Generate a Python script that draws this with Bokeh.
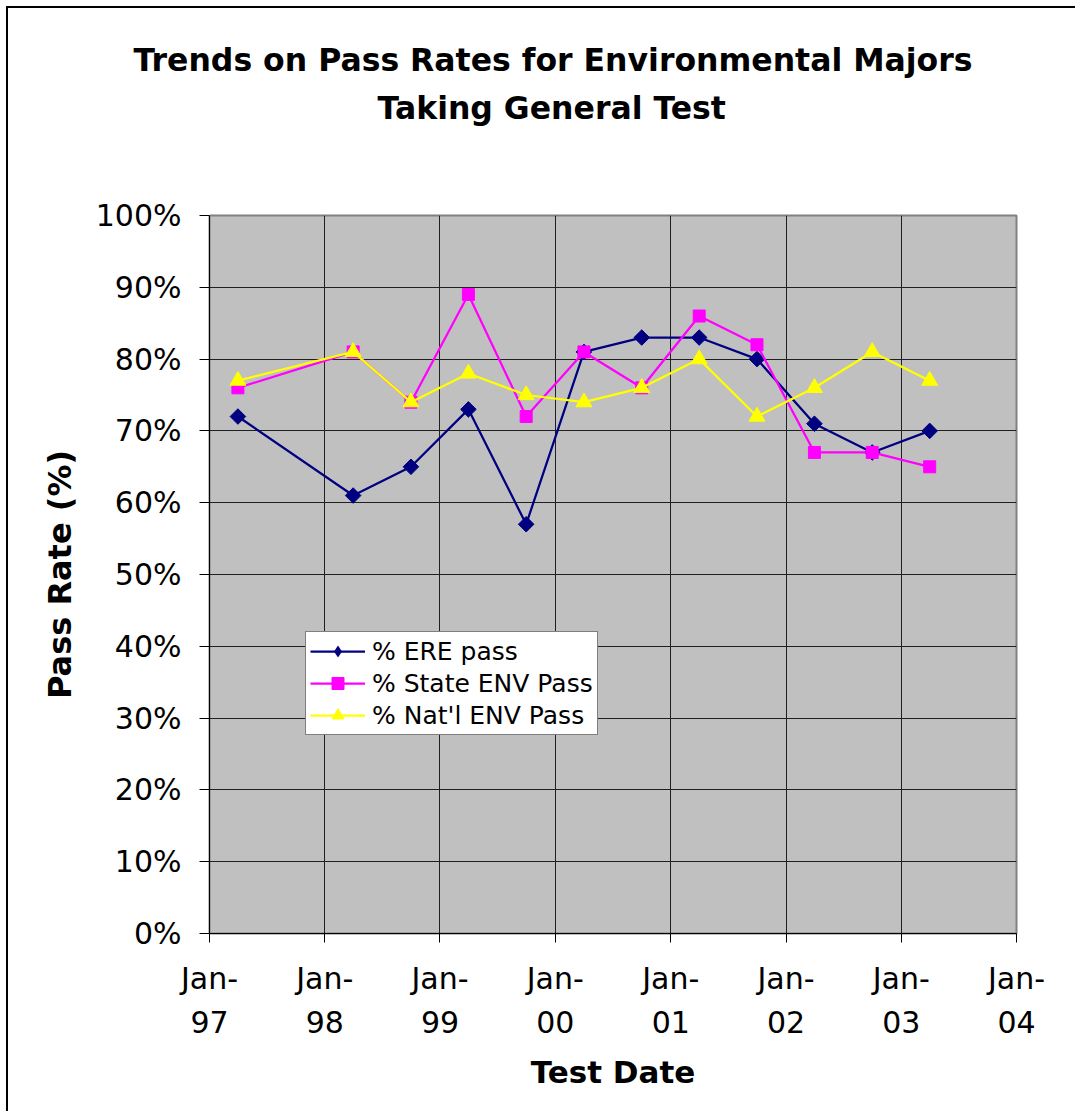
from datetime import datetime
import math

from bokeh.plotting import figure
from bokeh.models import (ColumnDataSource, FixedTicker, DatetimeTickFormatter,
                          PrintfTickFormatter, Legend, LegendItem, Range1d, Title, LinearAxis)
from bokeh.embed import file_html
from bokeh.resources import INLINE

# ---------------- data ----------------
test_dates = ["1997-04-01", "1998-04-01", "1998-10-01", "1999-04-01", "1999-10-01",
              "2000-04-01", "2000-10-01", "2001-04-01", "2001-10-01", "2002-04-01",
              "2002-10-01", "2003-04-01"]
ere_pass = [72, 61, 65, 73, 57, 81, 83, 83, 80, 71, 67, 70]
state_env_pass = [76, 81, 74, 89, 72, 81, 76, 86, 82, 67, 67, 65]
natl_env_pass = [77, 81, 74, 78, 75, 74, 76, 80, 72, 76, 81, 77]
tick_years = [1997, 1998, 1999, 2000, 2001, 2002, 2003, 2004]
y_ticks = [0, 10, 20, 30, 40, 50, 60, 70, 80, 90, 100]
series_names = ["% ERE pass", "% State ENV Pass", "% Nat'l ENV Pass"]
title_lines = ["Trends on Pass Rates for Environmental Majors", "Taking General Test"]

# ---------------- helpers ----------------
EPOCH = datetime(1970, 1, 1)


def to_ms(d):
    return (d - EPOCH).total_seconds() * 1000.0


x_dates = [datetime.strptime(s, "%Y-%m-%d") for s in test_dates]
source = ColumnDataSource(dict(date=x_dates, ere=ere_pass, state=state_env_pass, natl=natl_env_pass))
x_tick_ms = [to_ms(datetime(y, 1, 1)) for y in tick_years]

FONT = "DejaVu Sans"

p = figure(width=1069, height=1105, x_axis_type="datetime",
           output_backend="svg", toolbar_location=None,
           x_range=Range1d(x_tick_ms[0], x_tick_ms[-1]),
           y_range=Range1d(0, 100),
           min_border_left=201, min_border_right=61,
           min_border_top=207, min_border_bottom=180,
           background_fill_color="#C0C0C0", border_fill_color="white",
           outline_line_color="#808080", outline_line_width=2,
           styles={"margin-left": "6px", "margin-top": "6px",
                   "border-left": "2px solid #000000", "border-top": "2px solid #000000"})

p.title.text = ""
p.title.visible = False

# axes
xa = p.xaxis[0]
xa.ticker = FixedTicker(ticks=x_tick_ms)
fmt = "%b-\n%y"
xa.formatter = DatetimeTickFormatter(microseconds=fmt, milliseconds=fmt, seconds=fmt, minsec=fmt,
                                     minutes=fmt, hourmin=fmt, hours=fmt, days=fmt,
                                     months=fmt, years=fmt)
xa.major_label_text_font = FONT
xa.major_label_text_font_size = "30px"
xa.major_label_text_color = "black"
xa.major_label_text_line_height = 1.26
xa.major_label_standoff = 18
xa.major_tick_out = 9
xa.major_tick_in = 0
xa.minor_tick_line_color = None
xa.axis_line_color = "black"
xa.major_tick_line_color = "black"
xa.axis_label = "Test Date"
xa.axis_label_text_font = FONT
xa.axis_label_text_font_size = "31px"
xa.axis_label_text_font_style = "bold"
xa.axis_label_text_color = "black"
xa.axis_label_standoff = 11

ya = p.yaxis[0]
ya.ticker = FixedTicker(ticks=y_ticks)
ya.formatter = PrintfTickFormatter(format="%d%%")
ya.major_label_text_font = FONT
ya.major_label_text_font_size = "30px"
ya.major_label_text_color = "black"
ya.major_label_standoff = 18
ya.major_tick_out = 10
ya.major_tick_in = 0
ya.minor_tick_line_color = None
ya.axis_line_color = "black"
ya.major_tick_line_color = "black"
ya.axis_label = "Pass Rate (%)"
ya.axis_label_text_font = FONT
ya.axis_label_text_font_size = "32px"
ya.axis_label_text_font_style = "bold"
ya.axis_label_text_color = "black"
ya.axis_label_standoff = 14

p.xgrid.grid_line_color = "#202020"
p.xgrid.grid_line_width = 1
p.ygrid.grid_line_color = "#202020"
p.ygrid.grid_line_width = 1

# series
LW = 2.25
ere_line = p.line("date", "ere", source=source, line_color="#000080", line_width=LW)
ere_pts = p.scatter("date", "ere", source=source, marker="square", angle=math.pi / 4,
                    size=11, fill_color="#000080", line_color="#000080")
# diamond used only for the legend swatch (legend glyphs ignore marker angle)
ere_key = p.scatter("date", "ere", source=source, marker="diamond", size=0,
                    fill_color="#000080", line_color=None)
st_line = p.line("date", "state", source=source, line_color="#FF00FF", line_width=LW)
st_pts = p.scatter("date", "state", source=source, marker="square", size=12,
                   fill_color="#FF00FF", line_color="#FF00FF")
na_line = p.line("date", "natl", source=source, line_color="#FFFF00", line_width=LW)
na_pts = p.scatter("date", "natl", source=source, marker="triangle", size=16,
                   fill_color="#FFFF00", line_color="#FFFF00")

legend = Legend(items=[LegendItem(label=series_names[0], renderers=[ere_line, ere_key]),
                       LegendItem(label=series_names[1], renderers=[st_line, st_pts]),
                       LegendItem(label=series_names[2], renderers=[na_line, na_pts])],
                location=(96, 198), margin=0, padding=4, spacing=2,
                glyph_width=55, glyph_height=30, label_height=30, label_standoff=7,
                label_text_font=FONT, label_text_font_size="25px", label_text_color="black",
                border_line_color="black", border_line_width=1,
                background_fill_color="white", background_fill_alpha=1.0)
p.add_layout(legend, "center")

# invisible spacer (white tick on white, no labels) between plot area and the title
spacer = LinearAxis(ticker=FixedTicker(ticks=[x_tick_ms[0]]), major_tick_out=90, major_tick_in=0,
                    major_label_standoff=0, major_label_text_font_size="0px",
                    major_label_text_color=None, axis_line_color=None,
                    major_tick_line_color="white", major_tick_line_width=1,
                    minor_tick_line_color=None, minor_tick_out=0, minor_tick_in=0)
p.add_layout(spacer, "above")

# title: two lines, added nearest-first
p.add_layout(Title(text=title_lines[1], align="left", offset=168, standoff=0,
                   vertical_align="bottom", text_font=FONT, text_font_size="31.5px",
                   text_font_style="bold", text_color="black"), "above")
p.add_layout(Title(text=title_lines[0], align="left", offset=-76, standoff=19,
                   vertical_align="bottom", text_font=FONT, text_font_size="31.5px",
                   text_font_style="bold", text_color="black"), "above")

open("out.html", "w").write(file_html(p, INLINE))
